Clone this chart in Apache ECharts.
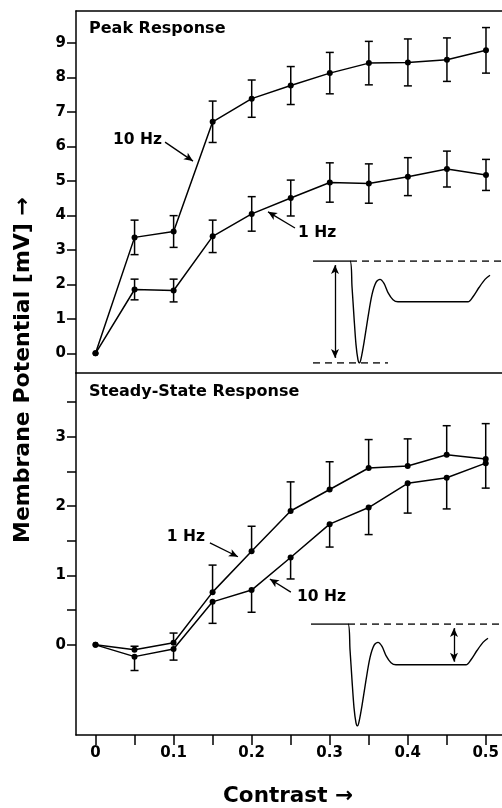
<!DOCTYPE html>
<html>
<head>
<meta charset="utf-8">
<script src="https://cdn.jsdelivr.net/npm/echarts@6/dist/echarts.min.js"></script>
<style>
html,body{margin:0;padding:0;background:#fff;}
#chart{width:502px;height:808px;}
</style>
</head>
<body>
<div id="chart"></div>
<script>
// ---- data ----
const contrast = [0, 0.05, 0.1, 0.15, 0.2, 0.25, 0.3, 0.35, 0.4, 0.45, 0.5];
const peak10Hz = [0, 3.36, 3.53, 6.71, 7.38, 7.76, 8.12, 8.41, 8.43, 8.51, 8.78];
const peak10HzErr = [0, 0.50, 0.46, 0.60, 0.54, 0.55, 0.60, 0.63, 0.68, 0.63, 0.66];
const peak1Hz = [0, 1.85, 1.82, 3.39, 4.04, 4.50, 4.95, 4.92, 5.12, 5.34, 5.17];
const peak1HzErr = [0, 0.30, 0.33, 0.47, 0.50, 0.52, 0.57, 0.57, 0.55, 0.52, 0.45];
const steady1Hz = [0, -0.07, 0.03, 0.76, 1.35, 1.93, 2.24, 2.55, 2.58, 2.74, 2.68];
const steady1HzErrUp = [0, 0.05, 0.14, 0.39, 0.36, 0.42, 0.40, 0.41, 0.39, 0.42, 0.51];
const steady10Hz = [0, -0.17, -0.06, 0.62, 0.79, 1.26, 1.74, 1.98, 2.33, 2.41, 2.62];
const steady10HzErrDown = [0, 0.20, 0.16, 0.31, 0.32, 0.31, 0.33, 0.39, 0.43, 0.45, 0.36];

const contrastTicks = [0, 0.05, 0.1, 0.15, 0.2, 0.25, 0.3, 0.35, 0.4, 0.45, 0.5];
const contrastLabels = [0, 0.1, 0.2, 0.3, 0.4, 0.5];
const peakTicks = [0, 1, 2, 3, 4, 5, 6, 7, 8, 9];
const steadyTicks = [0, 0.5, 1, 1.5, 2, 2.5, 3, 3.5];
const steadyLabels = [0, 1, 2, 3];

// schematic inset trace (time, relative potential)
const insetTime = [0, 37, 39, 41, 43, 45, 46.5, 48, 51, 55, 59, 63, 67, 71, 75, 80, 85, 155, 160, 166, 172, 177];
const insetTrace = [0, 0, -0.25, -0.55, -0.82, -0.97, -1.0, -0.96, -0.8, -0.55, -0.33, -0.21, -0.18, -0.22, -0.31, -0.38, -0.40, -0.40, -0.35, -0.26, -0.18, -0.14];

// ---- helpers ----
const FONT = '"DejaVu Sans", sans-serif';
const pairs = (xs, ys) => xs.map((x, i) => [x, ys[i]]);
function errData(xs, ys, errs, dir) {
  const out = [];
  xs.forEach((x, i) => {
    if (!errs[i]) return;
    if (dir >= 0) out.push([x, ys[i], ys[i] + errs[i]]);
    if (dir <= 0) out.push([x, ys[i], ys[i] - errs[i]]);
  });
  return out;
}
function renderErr(params, api) {
  const x = api.value(0), v = api.value(1), e = api.value(2);
  const p1 = api.coord([x, v]), p2 = api.coord([x, e]);
  const w = 4;
  return {
    type: 'group',
    children: [
      { type: 'line', shape: { x1: p1[0], y1: p1[1], x2: p2[0], y2: p2[1] }, style: { stroke: '#000', lineWidth: 1.5 } },
      { type: 'line', shape: { x1: p2[0] - w, y1: p2[1], x2: p2[0] + w, y2: p2[1] }, style: { stroke: '#000', lineWidth: 1.5 } }
    ]
  };
}
const fmt = v => String(Math.round(v * 10) / 10);
const axisLineStyle = { color: '#000', width: 1.5 };

function lineSeries(xi, yi, data, extra) {
  return Object.assign({
    type: 'line', xAxisIndex: xi, yAxisIndex: yi, data: data,
    symbol: 'circle', symbolSize: 6, showSymbol: true,
    itemStyle: { color: '#000' }, lineStyle: { color: '#000', width: 1.5 }, z: 5
  }, extra || {});
}
function arrowLine(from, to, syms) {
  return {
    silent: true, symbol: syms || ['none', 'arrow'], symbolSize: [6, 9],
    lineStyle: { color: '#000', width: 1.3, type: 'solid' }, label: { show: false },
    data: [[{ coord: from }, { coord: to }]]
  };
}

const option = {
  animation: false,
  backgroundColor: '#fff',
  grid: [
    { left: 76, right: 0, top: 11, height: 362 },
    { left: 76, right: 0, top: 373, height: 362 },
    { left: 313, top: 261, width: 189, height: 102 },
    { left: 311, top: 624, width: 191, height: 102 }
  ],
  xAxis: [
    { gridIndex: 0, type: 'value', min: -0.025, max: 0.5205, position: 'bottom',
      axisLine: { show: true, onZero: false, lineStyle: axisLineStyle }, axisTick: { show: false }, axisLabel: { show: false }, splitLine: { show: false } },
    { gridIndex: 0, type: 'value', min: -0.025, max: 0.5205, position: 'top',
      axisLine: { show: true, onZero: false, lineStyle: axisLineStyle }, axisTick: { show: false }, axisLabel: { show: false }, splitLine: { show: false } },
    { gridIndex: 1, type: 'value', min: -0.025, max: 0.5205, position: 'bottom',
      axisLine: { show: true, onZero: false, lineStyle: axisLineStyle },
      axisTick: { show: true, length: 10, inside: false, customValues: contrastTicks, lineStyle: { color: '#000', width: 1.5 } },
      axisLabel: { show: true, customValues: contrastLabels, formatter: fmt, margin: 11, color: '#000', fontSize: 15, fontWeight: 'bold', fontFamily: FONT },
      splitLine: { show: false } },
    { gridIndex: 2, type: 'value', min: 0, max: 189, show: false },
    { gridIndex: 3, type: 'value', min: 0, max: 191, show: false }
  ],
  yAxis: [
    { gridIndex: 0, type: 'value', min: -0.57, max: 9.92, position: 'left',
      axisLine: { show: true, onZero: false, lineStyle: axisLineStyle },
      axisTick: { show: true, length: 9, inside: false, customValues: peakTicks, lineStyle: { color: '#000', width: 1.5 } },
      axisLabel: { show: true, customValues: peakTicks, formatter: fmt, margin: 10, color: '#000', fontSize: 15, fontWeight: 'bold', fontFamily: FONT },
      splitLine: { show: false } },
    { gridIndex: 1, type: 'value', min: -1.30, max: 3.92, position: 'left',
      axisLine: { show: true, onZero: false, lineStyle: axisLineStyle },
      axisTick: { show: true, length: 9, inside: false, customValues: steadyTicks, lineStyle: { color: '#000', width: 1.5 } },
      axisLabel: { show: true, customValues: steadyLabels, formatter: fmt, margin: 10, color: '#000', fontSize: 15, fontWeight: 'bold', fontFamily: FONT },
      splitLine: { show: false } },
    { gridIndex: 2, type: 'value', min: -1, max: 0, show: false },
    { gridIndex: 3, type: 'value', min: -1, max: 0, show: false }
  ],
  series: [
    // Peak response
    { type: 'custom', xAxisIndex: 0, yAxisIndex: 0, renderItem: renderErr, data: errData(contrast, peak10Hz, peak10HzErr, 0), z: 3, silent: true },
    { type: 'custom', xAxisIndex: 0, yAxisIndex: 0, renderItem: renderErr, data: errData(contrast, peak1Hz, peak1HzErr, 0), z: 3, silent: true },
    lineSeries(0, 0, pairs(contrast, peak10Hz), { markLine: arrowLine([0.089, 6.12], [0.1248, 5.57]) }),
    lineSeries(0, 0, pairs(contrast, peak1Hz), { markLine: arrowLine([0.2554, 3.63], [0.2209, 4.10]) }),
    // Steady-state response
    { type: 'custom', xAxisIndex: 2, yAxisIndex: 1, renderItem: renderErr, data: errData(contrast, steady1Hz, steady1HzErrUp, 1), z: 3, silent: true },
    { type: 'custom', xAxisIndex: 2, yAxisIndex: 1, renderItem: renderErr, data: errData(contrast, steady10Hz, steady10HzErrDown, -1), z: 3, silent: true },
    lineSeries(2, 1, pairs(contrast, steady1Hz), { markLine: arrowLine([0.1466, 1.47], [0.1825, 1.27]) }),
    lineSeries(2, 1, pairs(contrast, steady10Hz), { markLine: arrowLine([0.2503, 0.76], [0.2234, 0.95]) }),
    // Top inset
    { type: 'line', xAxisIndex: 3, yAxisIndex: 2, data: pairs(insetTime, insetTrace), showSymbol: false, smooth: 0.3,
      lineStyle: { color: '#000', width: 1.4 }, silent: true,
      markLine: arrowLine([22, -0.04], [22, -0.95], ['arrow', 'arrow']) },
    { type: 'line', xAxisIndex: 3, yAxisIndex: 2, data: [[37, 0], [189, 0]], showSymbol: false, silent: true,
      lineStyle: { color: '#000', width: 1.4, type: [7, 5] } },
    { type: 'line', xAxisIndex: 3, yAxisIndex: 2, data: [[0, -1], [75, -1]], showSymbol: false, silent: true,
      lineStyle: { color: '#000', width: 1.4, type: [7, 5] } },
    // Bottom inset
    { type: 'line', xAxisIndex: 4, yAxisIndex: 3, data: pairs(insetTime, insetTrace), showSymbol: false, smooth: 0.3,
      lineStyle: { color: '#000', width: 1.4 }, silent: true,
      markLine: arrowLine([143, -0.04], [143, -0.37], ['arrow', 'arrow']) },
    { type: 'line', xAxisIndex: 4, yAxisIndex: 3, data: [[37, 0], [191, 0]], showSymbol: false, silent: true,
      lineStyle: { color: '#000', width: 1.4, type: [7, 5] } }
  ],
  graphic: [
    { type: 'text', left: 89, top: 21, style: { text: 'Peak Response', font: 'bold 16px ' + FONT, fill: '#000' } },
    { type: 'text', left: 89, top: 384, style: { text: 'Steady-State Response', font: 'bold 16px ' + FONT, fill: '#000' } },
    { type: 'text', x: 162, y: 140, style: { text: '10 Hz', font: 'bold 15.5px ' + FONT, fill: '#000', align: 'right', verticalAlign: 'middle' } },
    { type: 'text', x: 298, y: 233, style: { text: '1 Hz', font: 'bold 15.5px ' + FONT, fill: '#000', align: 'left', verticalAlign: 'middle' } },
    { type: 'text', x: 205, y: 537, style: { text: '1 Hz', font: 'bold 15.5px ' + FONT, fill: '#000', align: 'right', verticalAlign: 'middle' } },
    { type: 'text', x: 297, y: 597, style: { text: '10 Hz', font: 'bold 15.5px ' + FONT, fill: '#000', align: 'left', verticalAlign: 'middle' } },
    { type: 'text', x: 23, y: 370, rotation: Math.PI / 2, style: { text: 'Membrane Potential [mV] \u2192', font: 'bold 22px ' + FONT, fill: '#000', align: 'center', verticalAlign: 'middle' } },
    { type: 'text', x: 288, y: 796, style: { text: 'Contrast \u2192', font: 'bold 21.5px ' + FONT, fill: '#000', align: 'center', verticalAlign: 'middle' } }
  ]
};

const chart = echarts.init(document.getElementById('chart'), null, { renderer: 'canvas' });
chart.setOption(option);
</script>
</body>
</html>
